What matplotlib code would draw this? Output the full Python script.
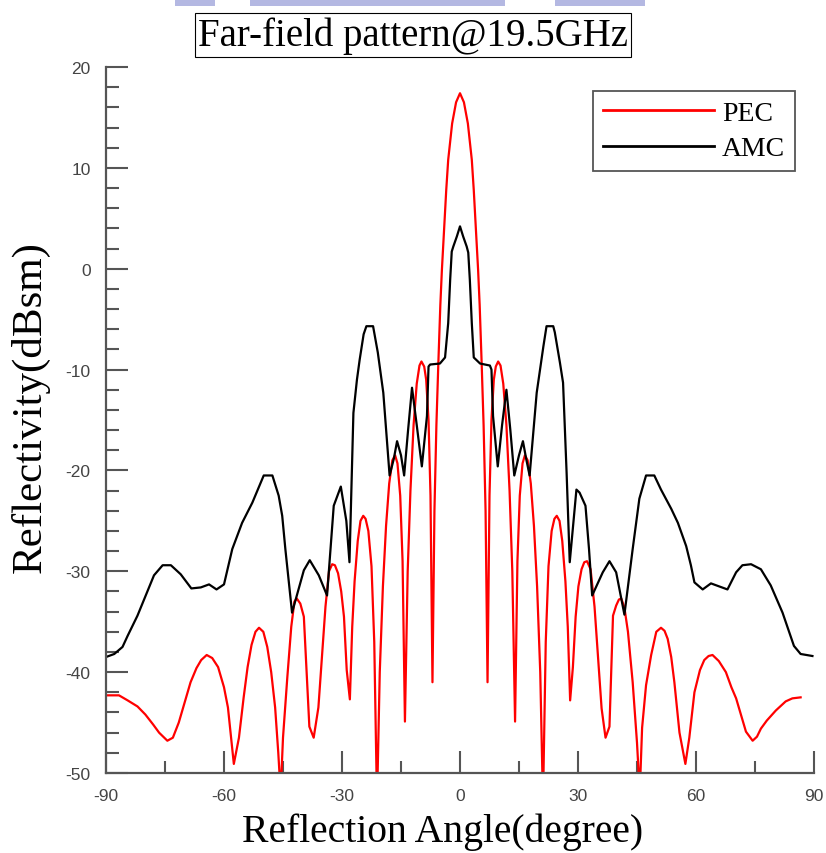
import matplotlib
matplotlib.use("Agg")
import matplotlib.pyplot as plt
from matplotlib.patches import Rectangle
from matplotlib.ticker import MultipleLocator, FuncFormatter

plt.rcParams["axes.unicode_minus"] = False

# Reflection angle (deg) and reflectivity (dBsm)
pec_angle = [
    -90, -86.7, -84.5, -82.0, -80.0, -78.0, -76.5, -74.4, -73.0, -71.5, -70.0, -68.5,
    -67.0, -65.8, -64.4, -63.0, -61.5, -60.0, -59.0, -58.2, -57.5, -56.2, -55.0, -54.0,
    -53.0, -52.0, -51.1, -50.0, -49.0, -48.0, -47.0, -46.2, -45.6, -45.0, -43.9, -42.9,
    -42.1, -41.5, -40.6, -39.7, -38.3, -37.2, -36.0, -35.1, -34.2, -33.3, -32.5, -31.8,
    -31.0, -30.2, -29.5, -28.8, -28.0, -27.4, -26.8, -26.0, -25.3, -24.6, -24.0, -23.3,
    -22.5, -21.8, -21.1, -20.4, -19.6, -18.8, -18.0, -17.2, -16.5, -15.9, -15.2, -14.6,
    -14.0, -13.3, -12.6, -11.8, -11.0, -10.3, -9.8, -9.1, -8.6, -8.0, -7.5, -7.0,
    -6.5, -6.0, -5.5, -5.0, -4.6, -4.0, -3.5, -3.0, -2.0, -1.0, 0.0,
    1.0, 2.0, 3.0, 3.5, 4.0, 4.6, 5.0, 5.5, 6.0, 6.5, 7.0, 7.5,
    8.0, 8.6, 9.1, 9.7, 10.3, 11.0, 11.8, 12.6, 13.3, 14.0, 14.6, 15.2,
    15.9, 16.5, 17.2, 18.0, 18.8, 19.6, 20.4, 21.1, 21.8, 22.5, 23.3, 24.0,
    24.6, 25.3, 26.0, 26.8, 27.4, 28.0, 28.7, 29.4, 30.1, 30.9, 31.6, 32.3,
    33.2, 34.2, 35.1, 36.0, 37.0, 38.0, 38.9, 39.7, 40.4, 41.0, 41.8, 42.7,
    43.9, 45.0, 45.7, 46.3, 47.3, 48.6, 49.9, 51.1, 52.0, 52.8, 53.7, 54.5,
    55.8, 57.3, 58.3, 59.6, 61.0, 62.1, 63.2, 64.2, 65.8, 67.6, 69.0, 70.2,
    71.5, 72.7, 74.4, 75.5, 76.5, 78.0, 80.3, 82.8, 84.5, 86.6,
]
pec_db = [
    -42.3, -42.3, -42.8, -43.4, -44.2, -45.2, -46.0, -46.8, -46.5, -45.0, -43.0, -41.0,
    -39.6, -38.8, -38.3, -38.6, -39.5, -41.5, -43.5, -46.5, -49.1, -46.5, -42.5, -39.5,
    -37.3, -36.0, -35.6, -36.0, -37.5, -40.0, -43.5, -48.0, -52.0, -46.5, -40.5, -35.5,
    -33.0, -32.7, -33.2, -34.5, -45.4, -46.5, -43.5, -38.5, -33.5, -30.0, -29.3, -29.4,
    -30.2, -32.0, -34.5, -39.8, -42.7, -35.5, -31.0, -27.0, -25.0, -24.5, -24.8, -26.0,
    -29.5, -37.0, -53.0, -40.0, -31.5, -25.5, -21.3, -19.0, -18.5, -19.3, -22.5, -29.0,
    -44.9, -30.0, -22.0, -15.5, -11.4, -9.6, -9.2, -9.7, -11.0, -15.0, -22.5, -41.0,
    -24.0, -15.5, -9.3, -3.6, -0.1, 4.2, 7.8, 10.8, 14.4, 16.5, 17.4,
    16.5, 14.4, 10.8, 7.8, 4.2, -0.1, -3.6, -9.3, -15.5, -24.0, -41.0, -22.5,
    -15.0, -11.0, -9.7, -9.2, -9.6, -11.4, -15.5, -22.0, -30.0, -44.9, -29.0, -22.5,
    -19.3, -18.5, -19.0, -21.3, -25.5, -31.5, -40.0, -53.0, -37.0, -29.5, -26.0, -24.8,
    -24.5, -25.0, -27.0, -31.0, -35.5, -42.8, -39.5, -34.5, -31.5, -29.8, -29.1, -29.0,
    -29.8, -33.5, -38.5, -43.6, -46.5, -45.4, -34.4, -33.4, -32.8, -32.7, -33.6, -36.0,
    -41.0, -47.0, -52.0, -45.5, -41.3, -38.3, -36.0, -35.6, -35.9, -36.7, -38.5, -41.0,
    -46.0, -49.1, -46.5, -42.0, -39.8, -38.8, -38.4, -38.3, -38.9, -40.0, -41.5, -42.6,
    -44.3, -45.9, -46.8, -46.4, -45.6, -44.8, -43.8, -42.9, -42.6, -42.5,
]

amc_angle = [
    -90, -87.9, -85.8, -84.5, -82.0, -79.9, -77.8, -75.6, -73.5, -71.0, -68.3, -65.9,
    -63.8, -61.9, -60.0, -57.9, -55.4, -52.8, -49.9, -47.7, -46.1, -45.2, -44.4, -42.7,
    -39.7, -38.2, -35.9, -33.8, -32.1, -30.3, -28.9, -28.1, -27.1, -26.2, -25.5, -24.5,
    -23.8, -22.1, -20.9, -19.5, -17.9, -16.8, -16.0, -15.0, -14.2, -13.2, -12.2, -11.0,
    -9.7, -8.4, -8.0, -7.6, -5.1, -3.8, -3.0, -2.5, -2.1, -1.7, -0.8, 0.0,
    0.8, 1.7, 2.1, 2.5, 3.0, 3.5, 5.1, 7.6, 8.0, 8.4, 9.6, 10.7,
    11.8, 12.8, 13.8, 15.0, 16.0, 16.8, 17.7, 19.5, 21.2, 22.0, 23.7, 24.1,
    25.4, 26.2, 27.1, 27.9, 29.6, 30.4, 31.9, 32.8, 33.6, 36.3, 38.0, 39.7,
    41.0, 41.8, 43.9, 45.6, 47.3, 49.4, 51.1, 53.7, 55.4, 57.5, 58.7, 59.6,
    61.7, 63.8, 65.9, 68.0, 70.2, 71.8, 74.0, 76.5, 79.0, 82.0, 84.9, 86.6, 89.6,
]
amc_db = [
    -38.5, -38.2, -37.5, -36.4, -34.4, -32.4, -30.4, -29.4, -29.4, -30.3, -31.7, -31.6,
    -31.3, -31.8, -31.3, -27.8, -25.2, -23.2, -20.5, -20.5, -22.5, -24.5, -27.8, -34.1,
    -29.9, -28.9, -30.4, -32.4, -23.5, -21.6, -25.0, -29.1, -14.3, -11.0, -9.0, -6.5,
    -5.7, -5.7, -8.3, -12.3, -20.5, -18.8, -17.1, -18.5, -20.5, -16.0, -11.8, -15.5,
    -19.6, -14.6, -9.7, -9.5, -9.4, -8.8, -5.4, -1.1, 1.7, 2.2, 3.2, 4.2,
    3.2, 2.2, 1.6, -1.1, -5.4, -8.8, -9.4, -9.6, -10.0, -14.6, -19.6, -15.5,
    -12.0, -16.0, -20.5, -18.5, -17.1, -18.8, -20.5, -12.3, -7.7, -5.7, -5.7, -6.3,
    -9.3, -11.3, -20.2, -29.1, -21.9, -22.2, -23.5, -27.8, -32.4, -30.1, -29.0, -30.1,
    -32.7, -34.3, -27.8, -22.8, -20.5, -20.5, -21.9, -23.8, -25.2, -27.5, -29.4, -31.1,
    -31.8, -31.2, -31.5, -31.8, -30.1, -29.4, -29.3, -29.8, -31.4, -34.1, -37.4, -38.2, -38.4,
]

series_names = ["PEC", "AMC"]
series_colors = ["#ff0000", "#000000"]

fig = plt.figure(figsize=(8.26, 8.54), dpi=100, facecolor="white")
ax = fig.add_axes([106 / 826, 80 / 854, 708 / 826, 706 / 854])

ax.plot(pec_angle, pec_db, color=series_colors[0], lw=1.6, label=series_names[0])
ax.plot(amc_angle, amc_db, color=series_colors[1], lw=1.6, label=series_names[1])

ax.set_xlim(-90, 90)
ax.set_ylim(-50, 20)
ax.xaxis.set_major_locator(MultipleLocator(30))
ax.xaxis.set_minor_locator(MultipleLocator(15))
ax.yaxis.set_major_locator(MultipleLocator(10))
ax.yaxis.set_minor_locator(MultipleLocator(2))
ax.xaxis.set_major_formatter(FuncFormatter(lambda v, p: f"{v:g}"))
ax.yaxis.set_major_formatter(FuncFormatter(lambda v, p: f"{v:g}"))

grey = "#555555"
for side in ("top", "right"):
    ax.spines[side].set_visible(False)
for side in ("left", "bottom"):
    ax.spines[side].set_color(grey)
    ax.spines[side].set_linewidth(1.6)

ax.tick_params(which="major", direction="in", length=16, width=1.5, color=grey,
               labelcolor="#444444", labelsize=12.5, pad=11)
ax.tick_params(which="minor", direction="in", length=9, width=1.5, color=grey)
for lab in ax.get_xticklabels() + ax.get_yticklabels():
    lab.set_family("Liberation Sans")

serif = "Liberation Serif"
ax.set_xlabel("Reflection Angle(degree)", family=serif, fontsize=28.5)
ax.set_ylabel("Reflectivity(dBsm)", family=serif, fontsize=31)
ax.xaxis.set_label_coords(0.475, -0.056, transform=ax.transAxes)
ax.yaxis.set_label_coords(-0.107, 0.52, transform=ax.transAxes)
ax.xaxis.label.set_va("top")
ax.yaxis.label.set_va("center")

leg = ax.legend(loc="upper right", bbox_to_anchor=(0.973, 0.966), prop={"family": serif, "size": 20},
                handlelength=4.0, handletextpad=0.3, labelspacing=0.35, borderpad=0.35,
                fancybox=False, framealpha=1, edgecolor=grey, borderaxespad=0)
leg.get_frame().set_linewidth(1.3)
for line in leg.get_lines():
    line.set_linewidth(2)

fig.text(0.5, 1 - 36 / 854, "Far-field pattern@19.5GHz", family=serif, fontsize=28,
         ha="center", va="center",
         bbox=dict(boxstyle="square,pad=0.08", facecolor="white", edgecolor="black", lw=0.8))

# faint lavender remnants of a banner cut off at the top edge
for x0, w in [(175, 40), (250, 255), (555, 90)]:
    fig.patches.append(Rectangle((x0 / 826, 1 - 7 / 854), w / 826, 7 / 854,
                                 transform=fig.transFigure, color="#b4b8e2", lw=0))

fig.savefig("out.png", dpi=100, facecolor="white")
